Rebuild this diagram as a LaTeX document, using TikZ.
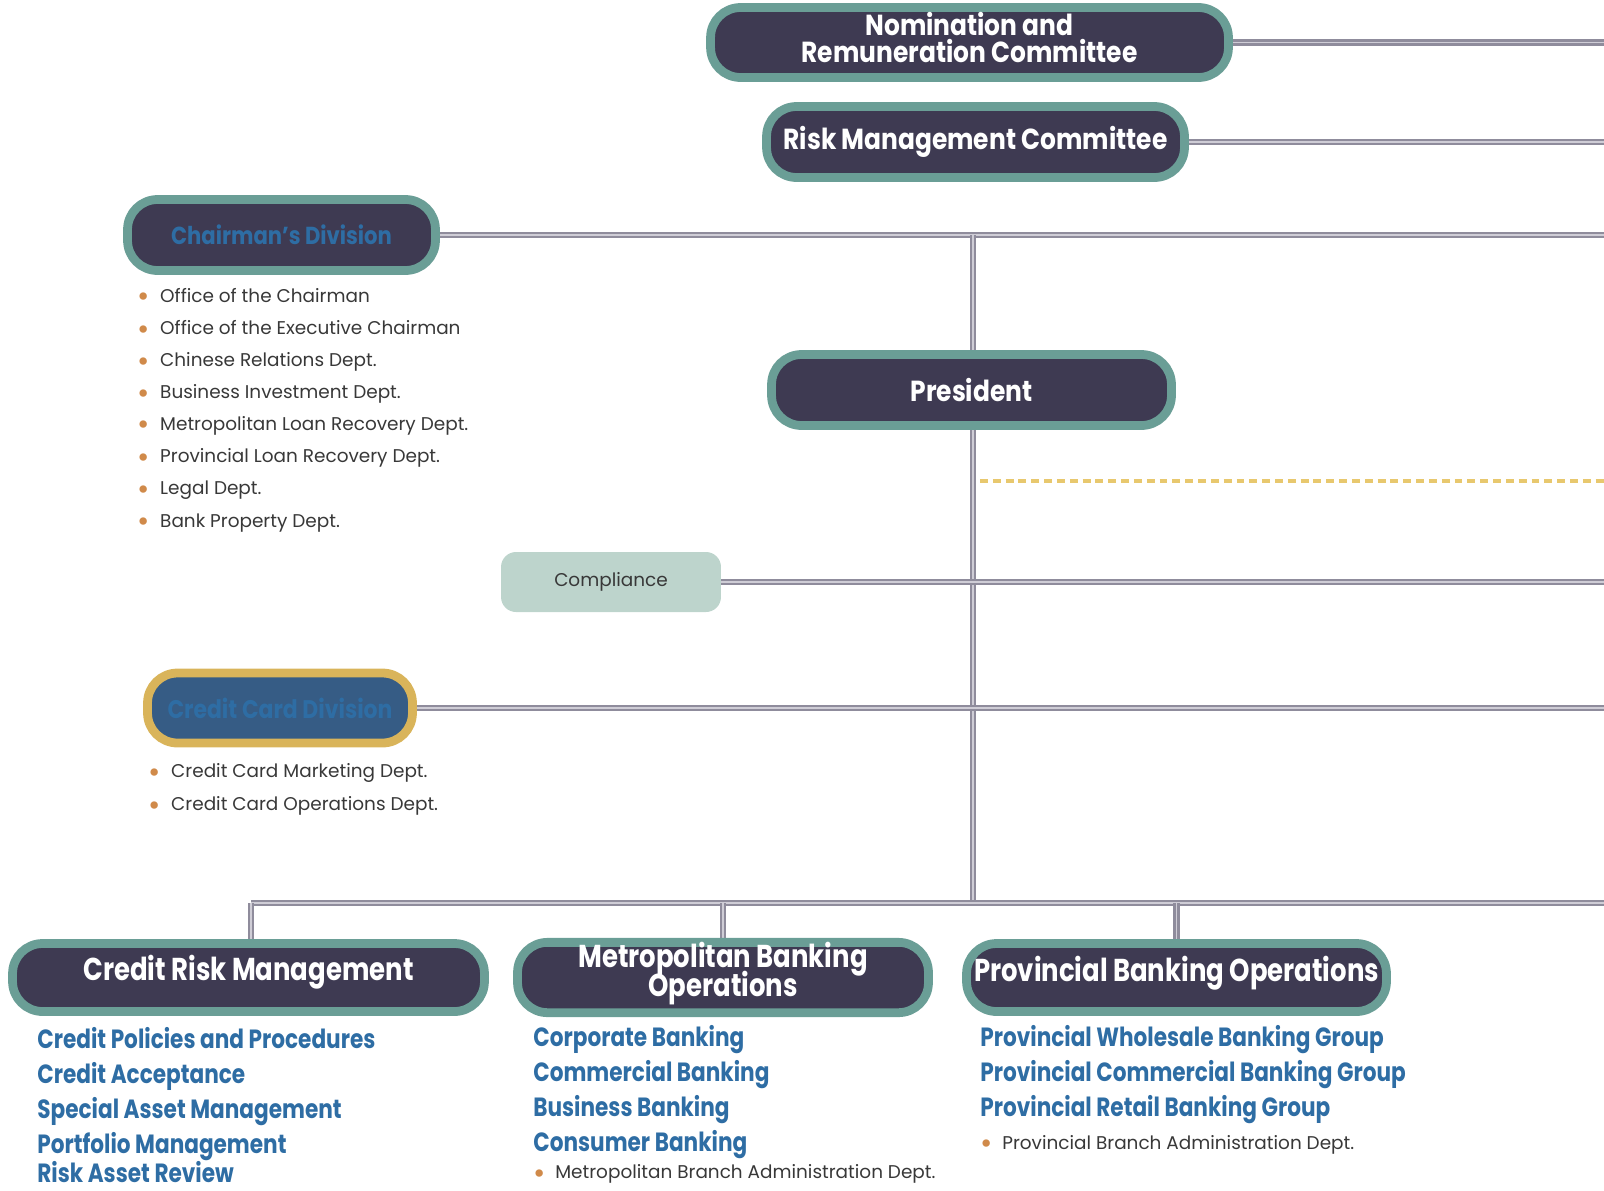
\documentclass[tikz,border=0pt]{standalone}
\usepackage{fontspec}
\setmainfont{Poppins}
\newfontfamily\headfont{Poppins}[FakeStretch=0.86]
\newfontfamily\listfont{Poppins}[FakeStretch=0.82]
\usetikzlibrary{backgrounds}
\setlength{\lineskiplimit}{-20pt}

\definecolor{boxfill}{HTML}{3E3A52}
\definecolor{boxedge}{HTML}{6A9E96}
\definecolor{compfill}{HTML}{BDD4CC}
\definecolor{cardfill}{HTML}{365C85}
\definecolor{cardedge}{HTML}{D9B45A}
\definecolor{wirec}{HTML}{8F8C9C}
\definecolor{wirelight}{HTML}{CFCDD6}
\definecolor{dashc}{HTML}{E8C86E}
\definecolor{bluetext}{HTML}{2E6DA4}
\definecolor{listgray}{HTML}{383838}
\definecolor{dotc}{HTML}{D08A4A}

\newcommand{\dotmark}[1]{\makebox[#1][l]{\raisebox{-2.6pt}{\textcolor{dotc}{\fontsize{17}{12}\selectfont•}}}}

\begin{document}
\begin{tikzpicture}[x=0.02cm, y=-0.02cm,
    head/.style={draw=boxedge, fill=boxfill, line width=5pt, rounded corners=0.6cm,
        text=white, align=center, inner sep=0pt,
        font=\headfont\bfseries\fontsize{16.5}{15.5}\selectfont},
    bighead/.style={head, font=\listfont\bfseries\fontsize{18}{16.5}\selectfont},
    wire/.style={draw=wirec, line width=1.3pt, double=wirelight, double distance=1.1pt},
    item/.style={anchor=west, inner sep=0pt, text=listgray, text height=7.5pt, text depth=2pt,
        font=\fontsize{10.5}{12}\selectfont},
    blueitem/.style={anchor=west, inner sep=0pt, text=bluetext, text height=11pt, text depth=3.5pt,
        font=\listfont\bfseries\fontsize{15}{16}\selectfont}]
    \useasboundingbox (0, 0) rectangle (1604, 1190);

    \node[head, minimum width=10.36cm, minimum height=1.4cm, text depth=0.2cm] (nom) at (969.5, 42.5)
        {Nomination and\\Remuneration Committee};
    \node[head, minimum width=8.36cm, minimum height=1.42cm] (risk) at (975.5, 142)
        {Risk Management Committee};
    \node[head, minimum width=6.16cm, minimum height=1.42cm, text=bluetext,
        font=\headfont\bfseries\fontsize{14}{15}\selectfont] (chair) at (281.5, 235)
        {Chairman’s Division};
    \node[head, minimum width=8cm, minimum height=1.42cm] (pres) at (971.5, 390) {President};
    \node[fill=compfill, rounded corners=0.3cm, minimum width=4.4cm, minimum height=1.2cm,
        text=listgray, font=\fontsize{10.5}{12}\selectfont] (comp) at (611, 582) {Compliance};
    \node[head, draw=cardedge, fill=cardfill, minimum width=5.3cm, minimum height=1.4cm,
        text=bluetext, font=\headfont\bfseries\fontsize{14.5}{16}\selectfont] (card) at (280, 708)
        {Credit Card Division};

    \node[bighead, minimum width=9.44cm, minimum height=1.36cm, text depth=0.4cm] (crm) at (248.5, 977.5)
        {Credit Risk Management};
    \node[bighead, minimum width=8.22cm, minimum height=1.36cm, text depth=0.32cm] (metro) at (723, 977.5)
        {Metropolitan Banking\\Operations};
    \node[bighead, minimum width=8.4cm, minimum height=1.36cm, text depth=0.35cm] (prov) at (1176.5, 977.5)
        {Provincial Banking Operations};

    \coordinate (nomR) at (1604, 42.5);
    \coordinate (riskR) at (1604, 142);
    \coordinate (chairR) at (1604, 235);
    \coordinate (top) at (973, 235);
    \coordinate (dashL) at (980, 481);
    \coordinate (dashR) at (1604, 481);
    \coordinate (compR) at (1604, 582);
    \coordinate (cardR) at (1604, 708);
    \coordinate (bus) at (973, 903);
    \coordinate (busL) at (251, 903);
    \coordinate (busR) at (1604, 903);

    \begin{scope}[on background layer]
        \draw[wire] (nom) -- (nomR);
        \draw[wire] (risk) -- (riskR);
        \draw[wire] (chair) -- (chairR);
        \draw[wire] (top) -- (bus);
        \draw[wire] (comp) -- (compR);
        \draw[wire] (card) -- (cardR);
        \draw[wire] (busL) -- (busR);
        \draw[wire] (busL) -- (crm.north -| busL);
        \draw[wire] (metro.north |- bus) -- (metro.north);
        \draw[wire] (prov.north |- bus) -- (prov.north);
    \end{scope}
    \draw[dashc, line width=2.2pt, dash pattern=on 4.5pt off 2.8pt] (dashL) -- (dashR);

    \node[item] (c1) at (137, 297.5) {\dotmark{13pt}Office of the Chairman};
    \node[item] (c2) at (137, 330) {\dotmark{13pt}Office of the Executive Chairman};
    \node[item] (c3) at (137, 362) {\dotmark{13pt}Chinese Relations Dept.};
    \node[item] (c4) at (137, 393.8) {\dotmark{13pt}Business Investment Dept.};
    \node[item] (c5) at (137, 425.5) {\dotmark{13pt}Metropolitan Loan Recovery Dept.};
    \node[item] (c6) at (137, 458) {\dotmark{13pt}Provincial Loan Recovery Dept.};
    \node[item] (c7) at (137, 489.9) {\dotmark{13pt}Legal Dept.};
    \node[item] (c8) at (137, 522.5) {\dotmark{13pt}Bank Property Dept.};

    \node[item] (k1) at (148, 773) {\dotmark{13pt}Credit Card Marketing Dept.};
    \node[item] (k2) at (148, 806) {\dotmark{13pt}Credit Card Operations Dept.};

    \node[blueitem] (r1) at (37, 1042.3) {Credit Policies and Procedures};
    \node[blueitem] (r2) at (37, 1077.1) {Credit Acceptance};
    \node[blueitem] (r3) at (37, 1111.9) {Special Asset Management};
    \node[blueitem] (r4) at (37, 1146.7) {Portfolio Management};
    \node[blueitem, text depth=1pt] (r5) at (37, 1174) {Risk Asset Review};

    \node[blueitem] (m1) at (533, 1040.3) {Corporate Banking};
    \node[blueitem] (m2) at (533, 1075.1) {Commercial Banking};
    \node[blueitem] (m3) at (533, 1109.8) {Business Banking};
    \node[blueitem] (m4) at (533, 1144.6) {Consumer Banking};
    \node[item] (m5) at (533, 1174) {\dotmark{12.5pt}Metropolitan Branch Administration Dept.};

    \node[blueitem] (p1) at (980, 1040.3) {Provincial Wholesale Banking Group};
    \node[blueitem] (p2) at (980, 1075.1) {Provincial Commercial Banking Group};
    \node[blueitem] (p3) at (980, 1109.8) {Provincial Retail Banking Group};
    \node[item] (p4) at (980, 1144.5) {\dotmark{12.5pt}Provincial Branch Administration Dept.};
\end{tikzpicture}
\end{document}
